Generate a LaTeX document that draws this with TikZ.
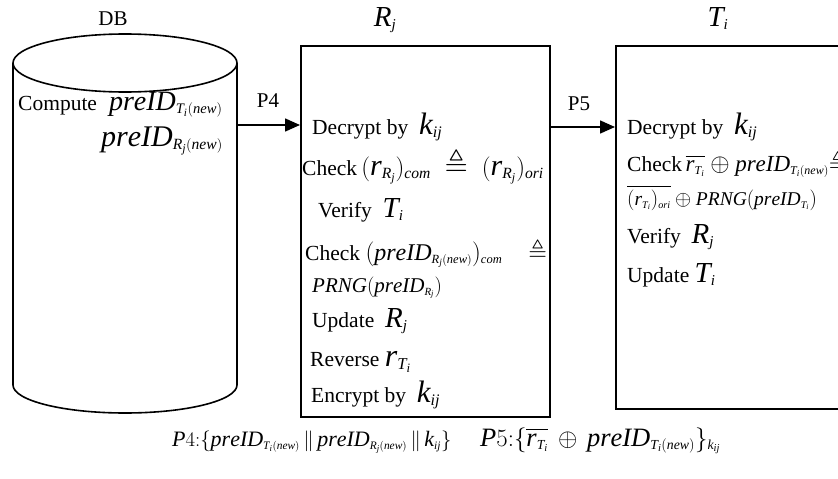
\documentclass[tikz,border=0pt]{standalone}
\usepackage{amsmath,amssymb}
\usepackage{fontspec}
\setmainfont{Liberation Serif}
% Times-like letters, digits and parentheses in formulas
\newfontfamily\tmsfam{Liberation Serif}[NFSSFamily=tmsx]
\DeclareSymbolFont{tmsit}{TU}{tmsx}{m}{it}
\DeclareSymbolFont{tmsup}{TU}{tmsx}{m}{n}
\newcount\lettercnt
\lettercnt=`a
\loop \Umathcode\lettercnt=7 \symtmsit \lettercnt
  \advance\lettercnt by 1
  \ifnum\lettercnt<123 \repeat
\lettercnt=`A
\loop \Umathcode\lettercnt=7 \symtmsit \lettercnt
  \advance\lettercnt by 1
  \ifnum\lettercnt<91 \repeat
\lettercnt=`0
\loop \Umathcode\lettercnt=7 \symtmsup \lettercnt
  \advance\lettercnt by 1
  \ifnum\lettercnt<58 \repeat
\Umathcode`(=4 \symtmsup `(
\Umathcode`)=5 \symtmsup `)
% small indices
\renewcommand\defaultscriptratio{.52}
\renewcommand\defaultscriptscriptratio{.40}
\usetikzlibrary{arrows.meta}
% formula at a given size
\newcommand\Mz[2]{{\fontsize{#1}{#1}\selectfont$#2$}}
\tikzset{
  edge/.style={line width=1.6pt},
  arr/.style={line width=1.6pt, -{Triangle[length=15pt,width=13pt]}},
  box/.style={draw, line width=1.6pt, anchor=north west, inner sep=0pt},
  txt/.style={anchor=base west, inner sep=0pt, font=\fontsize{21.5}{25}\selectfont},
  ttl/.style={anchor=base, inner sep=0pt, font=\fontsize{21}{25}\selectfont},
}
\begin{document}
\begin{tikzpicture}[x=1pt,y=-1pt]
\useasboundingbox (0,0) rectangle (838,479);

% database cylinder
\draw[edge] (125,63) ellipse [x radius=112pt, y radius=29pt];
\draw[edge] (13,63) -- (13,385)
  arc[start angle=180, end angle=360, x radius=112pt, y radius=28pt] -- (237,63);
\node[ttl] (dbl) at (113,25) {DB};
\node[txt] (c1) at (18,110) {Compute\hspace{12pt}\Mz{28}{preID_{T_i(new)}}};
\node[anchor=base east, inner sep=0pt] (c2) at (223,146) {\Mz{30}{preID_{R_j(new)}}};
\coordinate (dbside) at (237,125);

% reader box
\node[box, minimum width=249pt, minimum height=371pt] (rj) at (300,45) {};
\node[ttl] (rjl) at (385,26) {\Mz{29}{R_j}};
\node[txt] (r1) at (312,134) {Decrypt by\ \ \Mz{31}{k_{ij}}};
\node[txt] (r2) at (302,175) {Check\Mz{30}{\,(r_{R_j})_{com}\;\triangleq\;(r_{R_j})_{ori}}};
\node[txt] (r3) at (318,217) {Verify\ \ \Mz{29}{T_i}};
\node[txt] (r4) at (305,260) {Check \Mz{24}{(preID_{R_j(new)})_{com}}\hspace{26pt}\Mz{24}{\triangleq}};
\node[txt] (r5) at (312,292) {\Mz{21}{PRNG(preID_{R_j})}};
\node[txt] (r6) at (312,327) {Update\ \ \Mz{29}{R_j}};
\node[txt] (r7) at (310,366) {Reverse \Mz{32}{r_{T_i}}};
\node[txt] (r8) at (311,402) {Encrypt by\ \ \Mz{31}{k_{ij}}};

% tag box
\node[box, minimum width=240pt, minimum height=363pt] (ti) at (615,45) {};
\node[ttl] (til) at (718,26) {\Mz{29}{T_i}};
\node[txt] (t1) at (627,134) {Decrypt by\ \ \Mz{31}{k_{ij}}};
\node[txt] (t2) at (627,171) {Check\,\Mz{23}{\overline{r_{T_i}}\oplus preID_{T_i(new)}{\triangleq}}};
\node[txt] (t3) at (627,205) {\Mz{19.5}{\overline{(r_{T_i})_{ori}}\oplus PRNG(preID_{T_i})}};
\node[txt] (t4) at (627,243) {Verify\ \ \Mz{29}{R_j}};
\node[txt] (t5) at (627,282) {Update\ \Mz{29}{T_i}};

% messages
\coordinate (p5y) at (549,127);
\node[ttl] (p4) at (268,107) {P4};
\node[ttl] (p5) at (579,110) {P5};
\draw[arr] (dbside) -- (rj.west |- dbside);
\draw[arr] (p5y) -- (ti.west |- p5y);

% message contents
\node[txt] (m4) at (172,446) {\Mz{22}{P4{:}\{preID_{T_i(new)}\,\|\,preID_{R_j(new)}\,\|\,k_{ij}\}}};
\node[txt] (m5) at (480,446) {\Mz{26.5}{P5{:}\{\overline{r_{T_i}}\,\oplus\,preID_{T_i(new)}\}_{k_{ij}}}};
\end{tikzpicture}
\end{document}
